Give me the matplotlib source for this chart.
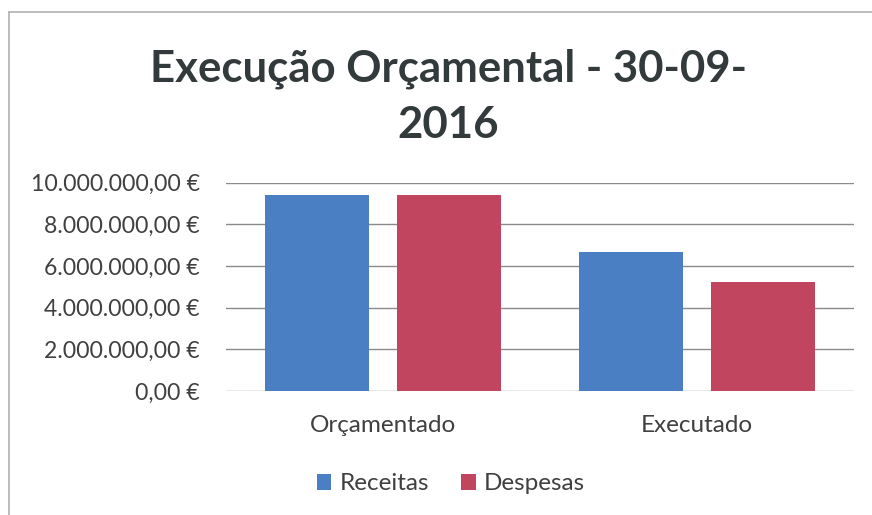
import matplotlib
matplotlib.use("Agg")
import matplotlib.pyplot as plt
from matplotlib.lines import Line2D
import numpy as np

categories = ["Orçamentado", "Executado"]
series = ["Receitas", "Despesas"]
receitas = [9410000, 6660000]
despesas = [9410000, 5250000]
yticks = [0, 2000000, 4000000, 6000000, 8000000, 10000000]
title = "Execução Orçamental - 30-09-\n2016"

colors = ["#4a7fc4", "#c2455f"]

def fmt(v):
    s = f"{v:,.2f}"
    s = s.replace(",", "X").replace(".", ",").replace("X", ".")
    return s + " €"

plt.rcParams['font.family'] = ['Lato', 'DejaVu Sans']

W, H = 872, 515
fig = plt.figure(figsize=(W/100, H/100), dpi=100)
ax = fig.add_axes([226/W, 1-391/H, (854-226)/W, (391-182.7)/H])

x = np.arange(len(categories))
bw = 0.331
off = 0.21
ax.bar(x - off, receitas, bw, color=colors[0], label=series[0], zorder=3)
ax.bar(x + off, despesas, bw, color=colors[1], label=series[1], zorder=3)

ax.set_xlim(-0.5, 1.5)
ax.set_ylim(0, 10000000)
ax.set_yticks(yticks)
ax.set_yticklabels([fmt(v) for v in yticks], fontsize=16.6, color="#404040")
ax.set_xticks(x)
ax.set_xticklabels(categories, fontsize=17.5, color="#404040")
ax.tick_params(axis='y', length=0, pad=19)
ax.tick_params(axis='x', length=0, pad=17)
ax.yaxis.grid(True, color="#8a8a8a", linewidth=1.0, zorder=0)
for s in ax.spines.values():
    s.set_visible(False)

fig.text(448/W, 1-97/H, title, ha="center", va="center", fontsize=31.5,
         fontweight="bold", color="#333a3c", linespacing=1.5)

handles, labels = ax.get_legend_handles_labels()
fig.legend(handles, labels, loc="center", bbox_to_anchor=(451/W, 1-484/H),
           ncol=2, frameon=False, fontsize=17.5, handlelength=0.6, handleheight=0.6,
           handletextpad=0.35, columnspacing=1.3, labelcolor="#404040")

# chart frame border
fig.add_artist(Line2D([9/W, 9/W], [0, 1-11.5/H], transform=fig.transFigure, color="#b0b0b0", lw=1.2))
fig.add_artist(Line2D([9/W, 1], [1-11.5/H, 1-11.5/H], transform=fig.transFigure, color="#b0b0b0", lw=1.2))

fig.savefig("out.png", dpi=100)
